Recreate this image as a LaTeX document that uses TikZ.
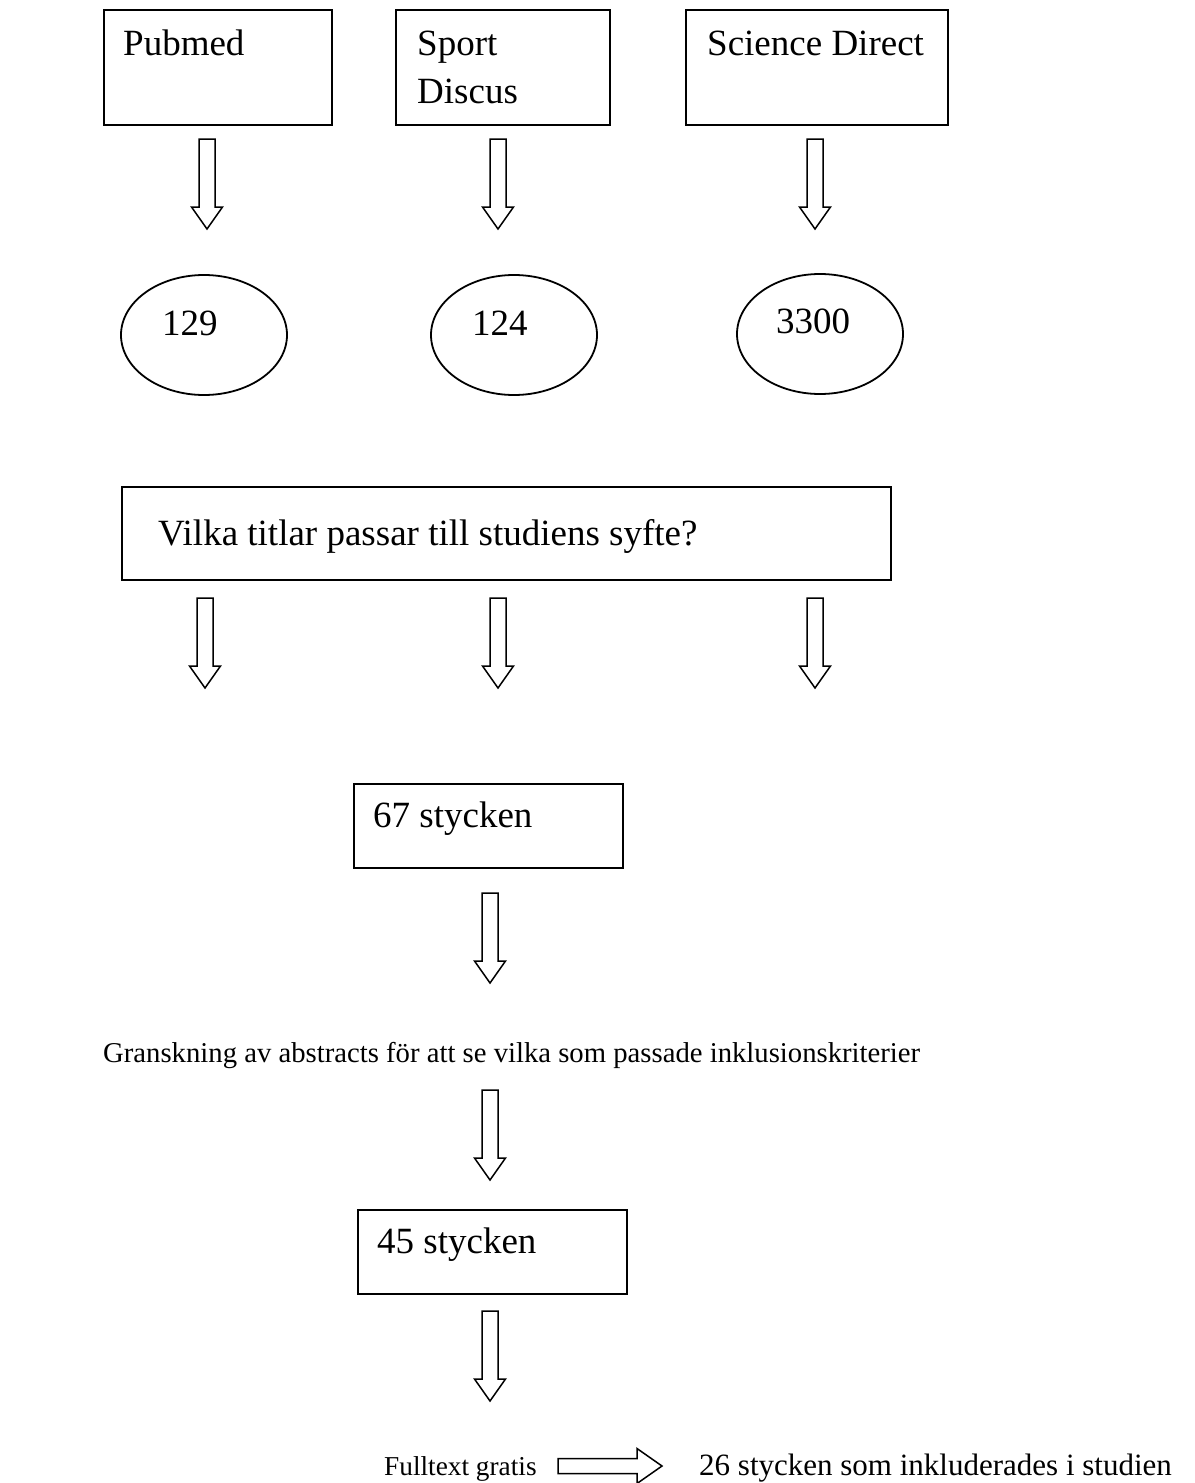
\documentclass[tikz,border=0pt]{standalone}
\usepackage{fontspec}
\setmainfont{Liberation Serif}
\usetikzlibrary{calc}
\tikzset{
  boxline/.style={draw=black, line width=1.9pt, rectangle, inner sep=0pt},
  ovalline/.style={line width=1.8pt},
  arrline/.style={draw=black, line width=1.5pt, line join=miter},
  bigtxt/.style={font=\fontsize{37}{44}\selectfont, inner sep=0pt},
  smalltxt/.style={font=\fontsize{28.7}{34}\selectfont, inner sep=0pt},
  fulltxt/.style={font=\fontsize{27.3}{33}\selectfont, inner sep=0pt},
  resulttxt/.style={font=\fontsize{31}{36}\selectfont, inner sep=0pt},
  downarr/.pic={\draw[arrline] (-8,0) -- (-8,68) -- (-15.5,68) -- (0,90) -- (15.5,68) -- (8,68) -- (8,0) -- cycle;},
  rightarr/.pic={\draw[arrline] (0,-7.5) -- (79,-7.5) -- (79,-17.5) -- (104,0) -- (79,17.5) -- (79,7.5) -- (0,7.5) -- cycle;}
}
\begin{document}
\begin{tikzpicture}[x=1pt,y=-1pt]
\useasboundingbox (0,0) rectangle (1194,1483);
% top boxes
\node[boxline, minimum width=228pt, minimum height=115pt, anchor=north west] (pub) at (103,9) {};
\node[bigtxt, anchor=base west] (pubt) at (123,55) {Pubmed};
\node[boxline, minimum width=214pt, minimum height=115pt, anchor=north west] (spo) at (395,9) {};
\node[bigtxt, anchor=base west] (spot1) at (417,55) {Sport};
\node[bigtxt, anchor=base west] (spot2) at (417,103) {Discus};
\node[boxline, minimum width=262pt, minimum height=115pt, anchor=north west] (sci) at (685,9) {};
\node[bigtxt, anchor=base west] (scit) at (707,55) {Science Direct};
% arrows row 1
\pic at (207,139) {downarr};
\pic at (498,139) {downarr};
\pic at (815,139) {downarr};
% ellipses
\draw[ovalline] (204,335) ellipse [x radius=83, y radius=60];
\draw[ovalline] (514,335) ellipse [x radius=83, y radius=60];
\draw[ovalline] (820,334) ellipse [x radius=83, y radius=60];
\node[bigtxt, anchor=base west] (n1) at (162,335) {129};
\node[bigtxt, anchor=base west] (n2) at (472,335) {124};
\node[bigtxt, anchor=base west] (n3) at (776,333) {3300};
% question box
\node[boxline, minimum width=769pt, minimum height=93pt, anchor=north west] (q) at (121,486) {};
\node[bigtxt, anchor=base west] (qt) at (158,545) {Vilka titlar passar till studiens syfte?};
% arrows row 2
\pic at (205,598) {downarr};
\pic at (498,598) {downarr};
\pic at (815,598) {downarr};
% 67 box
\node[boxline, minimum width=269pt, minimum height=84pt, anchor=north west] (b67) at (353,783) {};
\node[bigtxt, anchor=base west] (b67t) at (373,827) {67 stycken};
\pic at (490,893) {downarr};
% granskning
\node[smalltxt, anchor=base west] (gr) at (103,1062) {Granskning av abstracts för att se vilka som passade inklusionskriterier};
\pic at (490,1090) {downarr};
% 45 box
\node[boxline, minimum width=269pt, minimum height=84pt, anchor=north west] (b45) at (357,1209) {};
\node[bigtxt, anchor=base west] (b45t) at (377,1253) {45 stycken};
\pic at (490,1311) {downarr};
% bottom line
\node[fulltxt, anchor=base west] (ft) at (384,1475) {Fulltext gratis};
\pic at (558,1466) {rightarr};
\node[resulttxt, anchor=base west] (res) at (699,1475) {26 stycken som inkluderades i studien};
\end{tikzpicture}
\end{document}
